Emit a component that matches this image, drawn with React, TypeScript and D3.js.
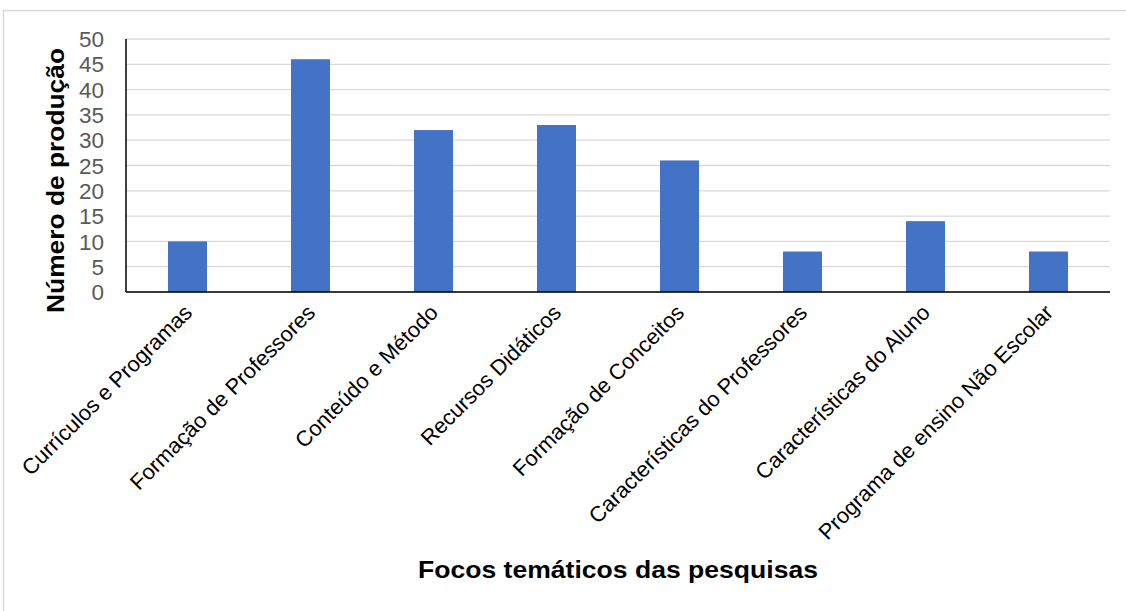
import * as d3 from "d3";

const categories = [
  "Currículos e Programas",
  "Formação de Professores",
  "Conteúdo e Método",
  "Recursos Didáticos",
  "Formação de Conceitos",
  "Características do Professores",
  "Características do Aluno",
  "Programa de ensino Não Escolar",
];
const counts = [10, 46, 32, 33, 26, 8, 14, 8];
const yTicks = [0, 5, 10, 15, 20, 25, 30, 35, 40, 45, 50];

const W = 1126;
const H = 611;
const plot = { left: 126, right: 1110, top: 39, bottom: 292 };
const font = "'Liberation Sans', Arial, sans-serif";

export default function App() {
  const x = d3
    .scaleBand<string>()
    .domain(categories)
    .range([plot.left, plot.right])
    .paddingInner(0.683)
    .paddingOuter(0.3415);
  const y = d3.scaleLinear().domain([0, 50]).range([plot.bottom, plot.top]);

  return (
    <svg
      width={W}
      height={H}
      style={{ position: "absolute", left: 0, top: 0, fontFamily: font }}
    >
      <rect x={0} y={0} width={W} height={H} fill="#fff" />
      <rect x={3.5} y={10.5} width={W + 10} height={H + 10} fill="none" stroke="#d9d9d9" strokeWidth={1.5} />

      {/* grid */}
      {yTicks.map((t) => (
        <line
          key={"g" + t}
          x1={plot.left}
          x2={plot.right}
          y1={y(t)}
          y2={y(t)}
          stroke="#d9d9d9"
          strokeWidth={1.3}
        />
      ))}

      {/* bars */}
      {categories.map((c, i) => (
        <rect
          key={c}
          x={x(c)}
          y={y(counts[i])}
          width={x.bandwidth()}
          height={y(0) - y(counts[i])}
          fill="#4472c4"
        />
      ))}

      {/* axes */}
      <line x1={plot.left} x2={plot.left} y1={plot.top} y2={plot.bottom} stroke="#000" strokeWidth={1.5} />
      <line x1={plot.left} x2={plot.right} y1={plot.bottom} y2={plot.bottom} stroke="#000" strokeWidth={1.5} />

      {yTicks.map((t) => (
        <text
          key={"t" + t}
          x={104}
          y={y(t)}
          dy="0.36em"
          textAnchor="end"
          fontSize={22.5}
          fill="#595959"
        >
          {t}
        </text>
      ))}

      {categories.map((c) => {
        const cx = (x(c) ?? 0) + x.bandwidth() / 2 + 1;
        const cy = plot.bottom + 17;
        return (
          <text
            key={"l" + c}
            transform={`translate(${cx},${cy}) rotate(-45)`}
            textAnchor="end"
            fontSize={21.8}
            fill="#000"
            dy="0.32em"
          >
            {c}
          </text>
        );
      })}

      <text
        transform={`translate(64,180.5) rotate(-90)`}
        textAnchor="middle"
        fontSize={24}
        fontWeight="bold"
        fill="#000"
        textLength={265}
        lengthAdjust="spacingAndGlyphs"
      >
        Número de produção
      </text>
      <text
        x={618}
        y={578}
        textAnchor="middle"
        fontSize={24}
        fontWeight="bold"
        fill="#000"
        textLength={400}
        lengthAdjust="spacingAndGlyphs"
      >
        Focos temáticos das pesquisas
      </text>
    </svg>
  );
}
